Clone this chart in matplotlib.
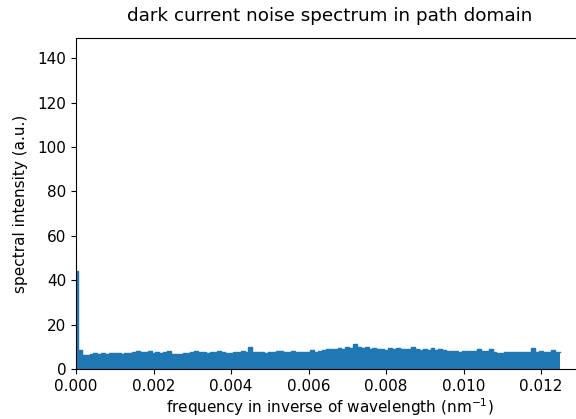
import numpy as np
import matplotlib
matplotlib.use("Agg")
import matplotlib.pyplot as plt

# spectrum, one value per 0.0001 nm^-1 from 0 to 0.0125
freq_step = 0.0001
spectrum = [
    44.0, 8.5, 6.5, 6.5, 6.8, 7.3, 7.0, 7.2, 7.0, 7.2,
    7.1, 7.2, 7.0, 7.3, 7.1, 7.5, 8.3, 7.6, 7.8, 8.0,
    7.2, 7.6, 7.2, 7.8, 8.0, 7.0, 6.6, 6.8, 7.3, 7.2,
    7.5, 8.0, 7.5, 7.7, 7.4, 7.6, 7.8, 8.3, 7.6, 7.4,
    7.3, 7.7, 7.9, 8.3, 7.6, 9.8, 7.9, 7.7, 7.6, 7.3,
    7.6, 7.5, 8.0, 8.3, 7.6, 7.8, 8.2, 7.8, 7.5, 7.7,
    7.6, 8.4, 7.9, 8.1, 8.6, 9.0, 9.2, 8.9, 9.3, 9.1,
    9.8, 9.6, 11.5, 10.0, 9.6, 9.8, 9.0, 9.4, 8.9, 9.2,
    8.8, 9.3, 9.0, 9.4, 8.9, 9.1, 9.0, 9.8, 8.9, 8.8,
    9.0, 8.7, 9.5, 8.8, 9.2, 8.4, 8.3, 8.2, 8.0, 7.9,
    8.2, 8.0, 8.3, 8.0, 9.2, 8.1, 8.3, 9.0, 7.6, 7.3,
    7.4, 7.5, 7.6, 7.5, 7.6, 7.7, 7.6, 7.8, 9.4, 7.8,
    8.0, 7.9, 7.8, 8.4, 7.8, 7.5,
]
freq = np.arange(len(spectrum)) * freq_step

plt.rcParams['font.size'] = 11

fig = plt.figure(figsize=(5.76, 4.19), dpi=100)
ax = fig.add_axes([0.132, 0.119, 0.880, 0.790])

ax.fill_between(freq, 0, spectrum, color='#1f77b4', lw=0, step='mid')
ax.plot(freq, spectrum, color='#1f77b4', lw=1, drawstyle='steps-mid')

ax.set_xlim(0, 0.01308)
ax.set_ylim(0, 149)
ax.set_yticks(np.arange(0, 141, 20))
ax.set_xticks(np.arange(0, 0.0121, 0.002))
ax.set_title('dark current noise spectrum in path domain', pad=12)
ax.set_xlabel('frequency in inverse of wavelength (nm$^{-1}$)', labelpad=1.5)
ax.set_ylabel('spectral intensity (a.u.)', labelpad=7)

fig.savefig('out.png', dpi=100)
